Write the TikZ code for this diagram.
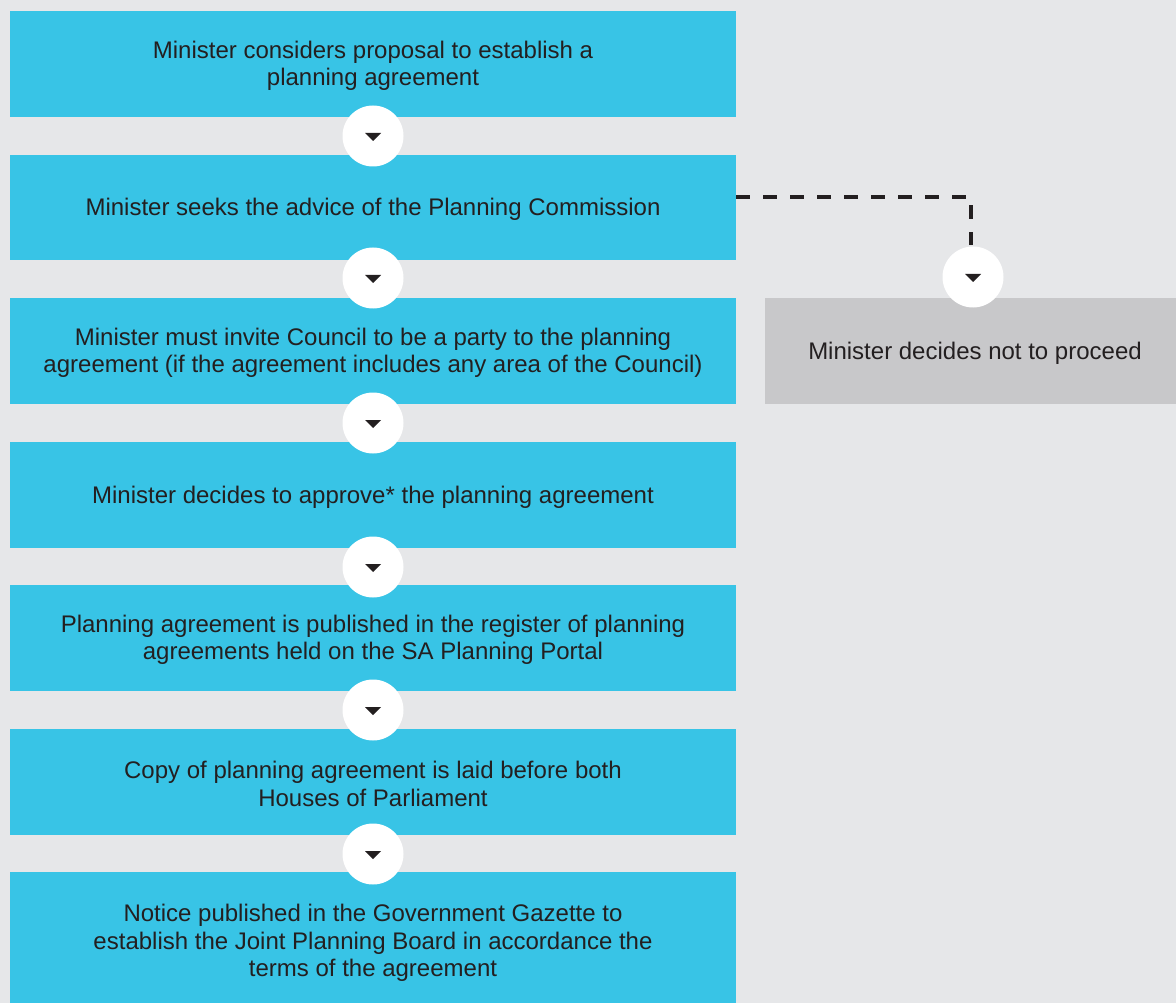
\documentclass[tikz,border=0pt]{standalone}
\usepackage{fontspec}
\setmainfont{Liberation Sans}
\definecolor{bg}{HTML}{E6E7E9}
\definecolor{cy}{HTML}{38C4E6}
\definecolor{gb}{HTML}{C8C8CA}
\definecolor{tx}{HTML}{231F20}
\begin{document}
\begin{tikzpicture}[x=1pt,y=-1pt,
  label/.style={text=tx,align=center,inner sep=0pt,
    font=\fontsize{24}{27.5}\selectfont},
  knob/.style={circle,fill=white,draw=none,minimum size=61pt,inner sep=0pt}]
\fill[bg] (0,0) rectangle (1176,1003);
\useasboundingbox (0,0) rectangle (1176,1003);
% boxes
\fill[cy] (10,11) rectangle (736,117);
\node[label] (b1) at (373,66) {Minister considers proposal to establish a\\planning agreement};
\fill[cy] (10,155) rectangle (736,260);
\node[label] (b2) at (373,209) {Minister seeks the advice of the Planning Commission};
\fill[cy] (10,298) rectangle (736,404);
\node[label] (b3) at (373,353) {Minister must invite Council to be a party to the planning\\agreement (if the agreement includes any area of the Council)};
\fill[cy] (10,442) rectangle (736,548);
\node[label] (b4) at (373,497) {Minister decides to approve* the planning agreement};
\fill[cy] (10,585) rectangle (736,691);
\node[label] (b5) at (373,640) {Planning agreement is published in the register of planning\\agreements held on the SA Planning Portal};
\fill[cy] (10,729) rectangle (736,835);
\node[label] (b6) at (373,784) {Copy of planning agreement is laid before both\\Houses of Parliament};
\fill[cy] (10,872) rectangle (736,1003);
\node[label] (b7) at (373,943) {Notice published in the Government Gazette to\\establish the Joint Planning Board in accordance the\\terms of the agreement};
\fill[gb] (765,298) rectangle (1176,404);
\node[label] (g1) at (975,353) {Minister decides not to proceed};
% dashed connector
\coordinate (d0) at (736,197.5);
\coordinate (d1) at (971,197.5);
\node[knob] (kr) at (973,277) {};
\coordinate (d2) at (971,245);
\draw[tx,line width=4pt,dash pattern=on 14pt off 13pt] (d0) -- (d1) -- (d2);
% knobs
\foreach \n/\y in {k1/136,k2/278,k3/423,k4/567,k5/710,k6/854}{
  \node[knob] (\n) at (373,\y) {};
}
\foreach \n in {k1,k2,k3,k4,k5,k6,kr}{
  \fill[tx] ([shift={(-8,-3)}]\n.center) -- ([shift={(8,-3)}]\n.center) -- ([shift={(0,5)}]\n.center) -- cycle;
}
\end{tikzpicture}
\end{document}
